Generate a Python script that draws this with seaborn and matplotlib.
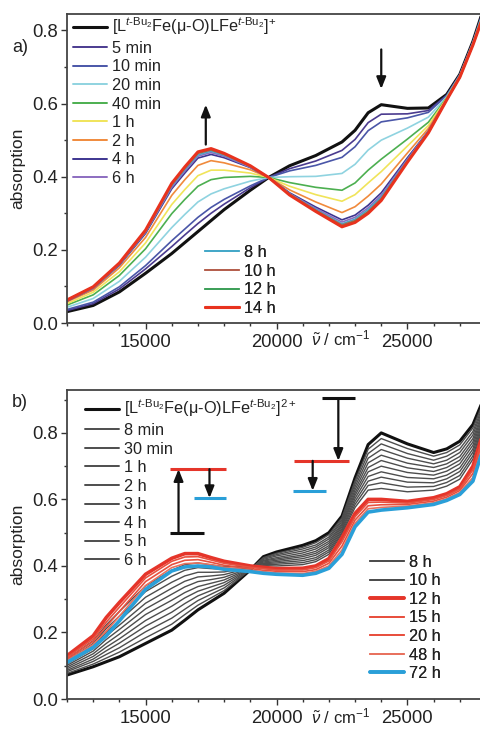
import numpy as np
import pandas as pd
import matplotlib
matplotlib.use("Agg")
import matplotlib.pyplot as plt
import seaborn as sns
from matplotlib.ticker import MultipleLocator
from matplotlib.lines import Line2D

# ---------------- panel a data ----------------
wn_a = [12000, 13000, 14000, 15000, 16000, 16500, 17000, 17500, 18000, 19000, 19700,
        20500, 21500, 22500, 23000, 23500, 24000, 25000, 25800, 26500, 27000, 27500, 28000]
a_start = [0.031, 0.048, 0.085, 0.136, 0.190, 0.220, 0.250, 0.280, 0.310, 0.363, 0.398, 0.430, 0.458, 0.495, 0.527, 0.575, 0.597, 0.587, 0.588, 0.625, 0.680, 0.770, 0.880]
a_5min = [0.034, 0.053, 0.093, 0.148, 0.209, 0.241, 0.272, 0.300, 0.325, 0.370, 0.398, 0.422, 0.443, 0.472, 0.502, 0.548, 0.571, 0.572, 0.581, 0.623, 0.679, 0.769, 0.878]
a_10min = [0.037, 0.057, 0.099, 0.157, 0.225, 0.257, 0.289, 0.316, 0.338, 0.375, 0.398, 0.416, 0.431, 0.453, 0.482, 0.526, 0.550, 0.561, 0.576, 0.622, 0.679, 0.768, 0.876]
a_20min = [0.043, 0.067, 0.114, 0.180, 0.261, 0.297, 0.331, 0.353, 0.367, 0.388, 0.398, 0.400, 0.401, 0.409, 0.434, 0.473, 0.500, 0.533, 0.563, 0.619, 0.677, 0.766, 0.873]
a_40min = [0.049, 0.077, 0.130, 0.203, 0.299, 0.338, 0.374, 0.392, 0.398, 0.401, 0.398, 0.384, 0.371, 0.363, 0.383, 0.418, 0.448, 0.503, 0.549, 0.616, 0.675, 0.764, 0.869]
a_1h = [0.053, 0.084, 0.140, 0.219, 0.324, 0.365, 0.403, 0.418, 0.418, 0.410, 0.398, 0.374, 0.351, 0.333, 0.351, 0.383, 0.414, 0.484, 0.540, 0.615, 0.674, 0.763, 0.866]
a_2h = [0.058, 0.090, 0.151, 0.234, 0.349, 0.392, 0.431, 0.444, 0.438, 0.419, 0.398, 0.364, 0.331, 0.302, 0.318, 0.347, 0.380, 0.465, 0.532, 0.613, 0.673, 0.762, 0.863]
a_4h = [0.060, 0.095, 0.158, 0.245, 0.367, 0.410, 0.451, 0.461, 0.452, 0.425, 0.398, 0.356, 0.317, 0.282, 0.295, 0.322, 0.356, 0.452, 0.525, 0.611, 0.673, 0.761, 0.862]
a_6h = [0.061, 0.096, 0.160, 0.248, 0.371, 0.416, 0.456, 0.466, 0.456, 0.426, 0.398, 0.354, 0.313, 0.276, 0.289, 0.315, 0.349, 0.448, 0.524, 0.611, 0.672, 0.761, 0.861]
a_8h = [0.062, 0.097, 0.161, 0.250, 0.375, 0.420, 0.460, 0.470, 0.459, 0.428, 0.398, 0.353, 0.310, 0.271, 0.284, 0.310, 0.344, 0.445, 0.522, 0.611, 0.672, 0.760, 0.861]
a_10h = [0.062, 0.098, 0.162, 0.252, 0.378, 0.423, 0.464, 0.473, 0.461, 0.429, 0.398, 0.352, 0.308, 0.268, 0.280, 0.305, 0.340, 0.443, 0.521, 0.610, 0.672, 0.760, 0.860]
a_12h = [0.063, 0.099, 0.163, 0.253, 0.380, 0.425, 0.466, 0.475, 0.463, 0.429, 0.398, 0.351, 0.307, 0.265, 0.278, 0.303, 0.338, 0.441, 0.521, 0.610, 0.672, 0.760, 0.860]
a_14h = [0.063, 0.099, 0.164, 0.254, 0.382, 0.427, 0.468, 0.477, 0.464, 0.430, 0.398, 0.350, 0.305, 0.263, 0.275, 0.300, 0.335, 0.440, 0.520, 0.610, 0.672, 0.760, 0.860]

labels_a = [r"[L$^{t\text{-}\mathrm{Bu}_2}$Fe(μ-O)LFe$^{t\text{-}\mathrm{Bu}_2}$]$^{+}$",
            "5 min", "10 min", "20 min", "40 min", "1 h", "2 h", "4 h", "6 h",
            "8 h", "10 h", "12 h", "14 h"]
curves_a = [a_start, a_5min, a_10min, a_20min, a_40min, a_1h, a_2h, a_4h, a_6h,
            a_8h, a_10h, a_12h, a_14h]
colors_a = ["#111111", "#4b3b8f", "#4a56a8", "#8fd3e0", "#4caf50", "#f0e45a", "#f08a3c",
            "#3d3590", "#8c6cc0", "#45a8c8", "#b5604e", "#3fa05a", "#e8321e"]
widths_a = [2.2, 1.2, 1.2, 1.2, 1.2, 1.2, 1.2, 1.2, 1.2, 1.2, 1.2, 1.2, 2.2]

# ---------------- panel b data ----------------
wn_b = [12000, 13000, 13500, 14000, 15000, 16000, 16500, 17000, 17500, 18000, 19000, 19500, 20000,
        21000, 21500, 22000, 22500, 23000, 23500, 24000, 25000, 26000, 26500, 27000, 27500, 28000]
b_start = [0.072, 0.097, 0.112, 0.127, 0.167, 0.207, 0.237, 0.268, 0.293, 0.318, 0.388, 0.428, 0.442, 0.462, 0.476, 0.500, 0.550, 0.665, 0.765, 0.800, 0.767, 0.741, 0.752, 0.775, 0.825, 0.920]
b_8min = [0.077, 0.105, 0.123, 0.141, 0.184, 0.225, 0.254, 0.282, 0.304, 0.326, 0.389, 0.425, 0.438, 0.456, 0.470, 0.494, 0.545, 0.656, 0.751, 0.783, 0.753, 0.730, 0.741, 0.764, 0.815, 0.913]
b_30min = [0.082, 0.113, 0.134, 0.154, 0.202, 0.243, 0.270, 0.296, 0.315, 0.334, 0.390, 0.423, 0.434, 0.451, 0.463, 0.487, 0.539, 0.647, 0.738, 0.767, 0.738, 0.718, 0.730, 0.752, 0.804, 0.905]
b_1h = [0.086, 0.120, 0.145, 0.168, 0.219, 0.261, 0.287, 0.310, 0.326, 0.342, 0.391, 0.420, 0.430, 0.445, 0.457, 0.481, 0.534, 0.638, 0.724, 0.750, 0.724, 0.707, 0.718, 0.741, 0.794, 0.898]
b_2h = [0.091, 0.128, 0.156, 0.181, 0.236, 0.279, 0.304, 0.324, 0.337, 0.350, 0.392, 0.417, 0.425, 0.439, 0.451, 0.474, 0.528, 0.629, 0.710, 0.733, 0.709, 0.696, 0.707, 0.729, 0.783, 0.890]
b_3h = [0.096, 0.136, 0.167, 0.195, 0.254, 0.297, 0.320, 0.338, 0.348, 0.358, 0.393, 0.415, 0.421, 0.433, 0.444, 0.468, 0.523, 0.620, 0.696, 0.717, 0.695, 0.684, 0.696, 0.718, 0.773, 0.883]
b_4h = [0.101, 0.144, 0.179, 0.209, 0.271, 0.315, 0.337, 0.353, 0.359, 0.366, 0.394, 0.412, 0.417, 0.428, 0.438, 0.461, 0.518, 0.612, 0.683, 0.700, 0.681, 0.673, 0.685, 0.707, 0.763, 0.875]
b_5h = [0.106, 0.151, 0.190, 0.222, 0.288, 0.333, 0.354, 0.367, 0.370, 0.374, 0.395, 0.409, 0.413, 0.422, 0.432, 0.455, 0.512, 0.603, 0.669, 0.683, 0.666, 0.662, 0.673, 0.695, 0.752, 0.868]
b_6h = [0.111, 0.159, 0.201, 0.236, 0.306, 0.351, 0.370, 0.381, 0.381, 0.382, 0.396, 0.407, 0.409, 0.416, 0.425, 0.448, 0.507, 0.594, 0.655, 0.667, 0.652, 0.650, 0.662, 0.684, 0.742, 0.860]
b_8h = [0.115, 0.167, 0.212, 0.249, 0.323, 0.369, 0.387, 0.395, 0.392, 0.390, 0.397, 0.404, 0.405, 0.410, 0.419, 0.442, 0.501, 0.585, 0.642, 0.650, 0.637, 0.639, 0.651, 0.672, 0.731, 0.853]
b_10h = [0.120, 0.175, 0.223, 0.263, 0.340, 0.387, 0.404, 0.409, 0.403, 0.398, 0.398, 0.401, 0.400, 0.404, 0.413, 0.435, 0.496, 0.576, 0.628, 0.633, 0.623, 0.628, 0.640, 0.661, 0.721, 0.845]
b_12h = [0.130, 0.190, 0.245, 0.290, 0.375, 0.423, 0.437, 0.437, 0.425, 0.414, 0.400, 0.396, 0.392, 0.393, 0.400, 0.422, 0.485, 0.558, 0.600, 0.600, 0.594, 0.605, 0.617, 0.638, 0.700, 0.830]
b_15h = [0.125, 0.181, 0.231, 0.276, 0.364, 0.414, 0.427, 0.428, 0.418, 0.408, 0.396, 0.392, 0.388, 0.388, 0.395, 0.415, 0.473, 0.548, 0.591, 0.592, 0.589, 0.600, 0.612, 0.632, 0.689, 0.818]
b_20h = [0.120, 0.173, 0.218, 0.263, 0.353, 0.404, 0.417, 0.419, 0.411, 0.402, 0.392, 0.387, 0.384, 0.383, 0.389, 0.408, 0.460, 0.538, 0.581, 0.584, 0.585, 0.595, 0.607, 0.627, 0.678, 0.805]
b_48h = [0.115, 0.164, 0.204, 0.249, 0.341, 0.395, 0.407, 0.409, 0.404, 0.396, 0.387, 0.383, 0.379, 0.377, 0.384, 0.400, 0.448, 0.528, 0.572, 0.576, 0.580, 0.590, 0.602, 0.621, 0.666, 0.793]
b_72h = [0.110, 0.155, 0.190, 0.235, 0.330, 0.385, 0.397, 0.400, 0.397, 0.390, 0.383, 0.378, 0.375, 0.372, 0.378, 0.393, 0.435, 0.518, 0.562, 0.568, 0.575, 0.585, 0.597, 0.615, 0.655, 0.780]

labels_b = [r"[L$^{t\text{-}\mathrm{Bu}_2}$Fe(μ-O)LFe$^{t\text{-}\mathrm{Bu}_2}$]$^{2+}$",
            "8 min", "30 min", "1 h", "2 h", "3 h", "4 h", "5 h", "6 h",
            "8 h", "10 h", "12 h", "15 h", "20 h", "48 h", "72 h"]
curves_b = [b_start, b_8min, b_30min, b_1h, b_2h, b_3h, b_4h, b_5h, b_6h,
            b_8h, b_10h, b_12h, b_15h, b_20h, b_48h, b_72h]
colors_b = ["#111111"] + ["#4d4d4d"] * 10 + ["#e5352a", "#e8503f", "#e8503f", "#e8725f", "#2a9fd8"]
widths_b = [2.2] + [1.0] * 10 + [2.6, 1.2, 1.2, 1.2, 2.6]

# ---------------- figure ----------------
sns.set_style("ticks")
plt.rcParams["font.family"] = ["Liberation Sans", "DejaVu Sans"]
plt.rcParams["mathtext.fontset"] = "custom"
plt.rcParams["mathtext.rm"] = "Liberation Sans"
plt.rcParams["mathtext.it"] = "Liberation Sans:italic"
plt.rcParams["mathtext.bf"] = "Liberation Sans:bold"

W, H = 480, 732
fig = plt.figure(figsize=(W / 100, H / 100), dpi=100)
axw = 419 / W
ax_a = fig.add_axes([67 / W, 1 - 323 / H, axw, 309 / H])
ax_b = fig.add_axes([67 / W, 1 - 699 / H, axw, 309 / H])

TXT = "#222222"


def style_axis(ax, ytop):
    ax.set_xlim(12000, 28000)
    ax.set_ylim(0, ytop)
    ax.xaxis.set_major_locator(MultipleLocator(5000))
    ax.xaxis.set_minor_locator(MultipleLocator(1000))
    ax.yaxis.set_major_locator(MultipleLocator(0.2))
    ax.yaxis.set_minor_locator(MultipleLocator(0.1))
    ax.yaxis.set_major_formatter(matplotlib.ticker.FormatStrFormatter("%.1f"))
    ax.tick_params(which="major", direction="out", length=4, width=1.0, color="#333333",
                   labelsize=13.3, labelcolor=TXT, pad=2.5)
    ax.tick_params(which="minor", direction="out", length=2.5, width=1.0, color="#333333")
    ax.tick_params(axis="x", which="major", pad=4)
    for s in ax.spines.values():
        s.set_color("#444444")
        s.set_linewidth(1.3)
    ax.set_xlabel("")
    ax.set_ylabel("absorption", fontsize=12.5, color=TXT, labelpad=5)
    ax.set_facecolor("white")


def draw(ax, wn, curves, colors, widths):
    for vals, c, lw in zip(curves, colors, widths):
        sns.lineplot(x=wn, y=vals, ax=ax, color=c, linewidth=lw, legend=False,
                     sort=False, errorbar=None, solid_joinstyle="round")


def legend(ax, labels, colors, widths, idx, anchor, loc):
    handles = [Line2D([], [], color=colors[i], lw=max(widths[i], 1.4)) for i in idx]
    leg = ax.legend(handles, [labels[i] for i in idx], loc=loc, bbox_to_anchor=anchor,
                    frameon=False, fontsize=11.7, handlelength=2.1, handletextpad=0.3,
                    labelspacing=0.22, borderpad=0, borderaxespad=0)
    for t in leg.get_texts():
        t.set_color(TXT)
    ax.add_artist(leg)
    return leg


arrow_kw = dict(arrowstyle="-|>,head_length=0.7,head_width=0.28", color="#111111",
                lw=1.6, shrinkA=0, shrinkB=0)

# panel a
draw(ax_a, wn_a, curves_a, colors_a, widths_a)
style_axis(ax_a, 0.845)
legend(ax_a, labels_a, colors_a, widths_a, range(0, 9), (0.014, 0.995), "upper left")
legend(ax_a, labels_a, colors_a, widths_a, range(9, 13), (0.329, 0.023), "lower left")
ax_a.annotate("", xy=(17300, 0.597), xytext=(17300, 0.488), arrowprops=arrow_kw)
ax_a.annotate("", xy=(24000, 0.64), xytext=(24000, 0.748), arrowprops=arrow_kw)
ax_a.text(0.652, -0.05, r"$\tilde{\nu}$ / cm$^{-1}$", transform=ax_a.transAxes,
          ha="center", va="center", fontsize=12, color=TXT)

# panel b
draw(ax_b, wn_b, curves_b, colors_b, widths_b)
style_axis(ax_b, 0.929)
legend(ax_b, labels_b, colors_b, widths_b, range(0, 9), (0.043, 0.975), "upper left")
legend(ax_b, labels_b, colors_b, widths_b, range(9, 16), (0.723, 0.058), "lower left")
ax_b.hlines([0.50, 0.691, 0.604], [15942, 15950, 16831], [17239, 18078, 18078],
            colors=["#111111", "#e5352a", "#2a9fd8"], lw=2.2)
ax_b.hlines([0.904, 0.716, 0.626], [21750, 20683, 20645], [22998, 22769, 21892],
            colors=["#111111", "#e5352a", "#2a9fd8"], lw=2.2)
ax_b.annotate("", xy=(16259, 0.691), xytext=(16259, 0.50), arrowprops=arrow_kw)
ax_b.annotate("", xy=(17441, 0.604), xytext=(17441, 0.691), arrowprops=arrow_kw)
ax_b.annotate("", xy=(22361, 0.716), xytext=(22361, 0.904), arrowprops=arrow_kw)
ax_b.annotate("", xy=(21382, 0.626), xytext=(21382, 0.716), arrowprops=arrow_kw)
ax_b.text(0.652, -0.055, r"$\tilde{\nu}$ / cm$^{-1}$", transform=ax_b.transAxes,
          ha="center", va="center", fontsize=12, color=TXT)

fig.text(20 / W, 1 - 48 / H, "a)", fontsize=13, ha="center", va="center", color=TXT)
fig.text(20 / W, 1 - 402 / H, "b)", fontsize=13, ha="center", va="center", color=TXT)

fig.savefig("out.png", dpi=100)
